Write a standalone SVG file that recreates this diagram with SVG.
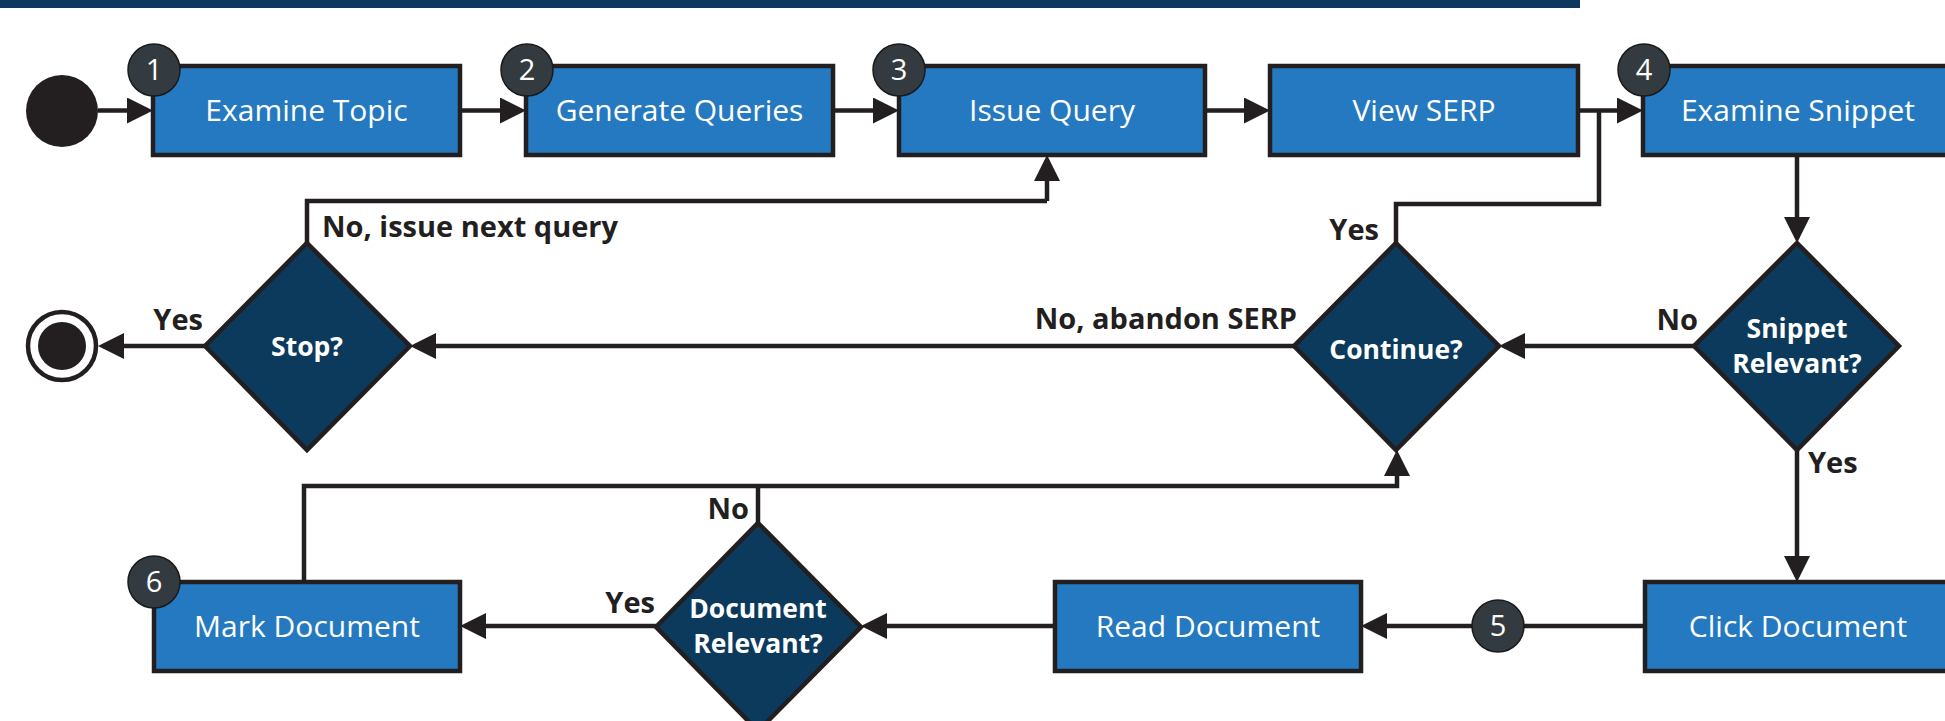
<svg xmlns="http://www.w3.org/2000/svg" width="1945" height="721" viewBox="0 0 1945 721">
<style>
.box{fill:#2479c0;stroke:#231f20;stroke-width:4.5}
.dia{fill:#0b3a5d;stroke:#231f20;stroke-width:4.5;stroke-linejoin:miter}
.btxt{font-family:"Open Sans","Noto Sans",sans-serif;font-size:30px;font-weight:500;fill:#fff;text-anchor:middle}
.dtxt{font-family:"Open Sans","Noto Sans",sans-serif;font-size:26.5px;font-weight:bold;fill:#fff;text-anchor:middle}
.lbl{font-family:"Open Sans","Noto Sans",sans-serif;font-size:29px;font-weight:bold;fill:#231f20}
.badge{fill:#343b40;stroke:#1a1a1a;stroke-width:1.5}
.num{font-family:"Open Sans","Noto Sans",sans-serif;font-size:29px;fill:#fff;text-anchor:middle}
.con{fill:none;stroke:#231f20;stroke-width:4.5}
.arr{marker-end:url(#ah)}
</style>
<defs>
<marker id="ah" viewBox="0 0 26 26" refX="21" refY="13" markerWidth="26" markerHeight="26" markerUnits="userSpaceOnUse" orient="auto">
<path d="M0,0 L26,13 L0,26 z" fill="#231f20"/>
</marker>
</defs>
<rect x="0" y="0" width="1580" height="8" fill="#0c375e"/>

<g id="connectors">
<path class="con arr" d="M98,110.5 H148"/>
<path class="con arr" d="M460,110.5 H521"/>
<path class="con arr" d="M833,110.5 H894"/>
<path class="con arr" d="M1205,110.5 H1265"/>
<path class="con arr" d="M1578,110.5 H1638"/>
<path class="con arr" d="M1797,155 V238"/>
<path class="con arr" d="M1694,346 H1504"/>
<path class="con" d="M1396,243 V204 H1599 V110.5"/>
<path class="con arr" d="M1294,346 H415"/>
<path class="con" d="M307,243 V201 H1047"/>
<path class="con arr" d="M1047,201 V160"/>
<path class="con arr" d="M205,346 H103"/>
<path class="con arr" d="M1797,450 V577"/>
<path class="con arr" d="M1645,626 H1366"/>
<path class="con arr" d="M1055,626 H866"/>
<path class="con arr" d="M656,626 H465"/>
<path class="con" d="M758,523 V486"/>
<path class="con arr" d="M304,582 V486 H1397 V455"/>
</g>

<g id="start"><circle cx="62" cy="111" r="36" fill="#231f20"/></g>
<g id="end">
<circle cx="62" cy="346" r="34" fill="#fff" stroke="#231f20" stroke-width="4.5"/>
<circle cx="62" cy="346" r="24" fill="#231f20"/>
</g>

<g id="examine-topic">
<rect class="box" x="153" y="66" width="307" height="89"/>
<text class="btxt" x="306.5" y="121">Examine Topic</text>
<circle class="badge" cx="154" cy="70" r="26"/><text class="num" x="154" y="80">1</text>
</g>
<g id="generate-queries">
<rect class="box" x="526" y="66" width="307" height="89"/>
<text class="btxt" x="679.5" y="121">Generate Queries</text>
<circle class="badge" cx="527" cy="70" r="26"/><text class="num" x="527" y="80">2</text>
</g>
<g id="issue-query">
<rect class="box" x="899" y="66" width="306" height="89"/>
<text class="btxt" x="1052" y="121">Issue Query</text>
<circle class="badge" cx="899" cy="70" r="26"/><text class="num" x="899" y="80">3</text>
</g>
<g id="view-serp">
<rect class="box" x="1270" y="66" width="308" height="89"/>
<text class="btxt" x="1424" y="121">View SERP</text>
</g>
<g id="examine-snippet">
<rect class="box" x="1643" y="66" width="310" height="89"/>
<text class="btxt" x="1798" y="121">Examine Snippet</text>
<circle class="badge" cx="1644" cy="70" r="26"/><text class="num" x="1644" y="80">4</text>
</g>

<g id="stop">
<polygon class="dia" points="307,243 410,346 307,450 205,346"/>
<text class="dtxt" x="307" y="356">Stop?</text>
</g>
<g id="continue">
<polygon class="dia" points="1396,243 1499,346 1396,450 1294,346"/>
<text class="dtxt" x="1396" y="359">Continue?</text>
</g>
<g id="snippet-relevant">
<polygon class="dia" points="1797,243 1899,346 1797,450 1694,346"/>
<text class="dtxt" x="1797" y="338">Snippet</text>
<text class="dtxt" x="1797" y="373">Relevant?</text>
</g>
<g id="document-relevant">
<polygon class="dia" points="758,523 861,627 758,731 656,627"/>
<text class="dtxt" x="758" y="618">Document</text>
<text class="dtxt" x="758" y="653">Relevant?</text>
</g>

<g id="mark-document">
<rect class="box" x="154" y="582" width="306" height="89"/>
<text class="btxt" x="307" y="637">Mark Document</text>
<circle class="badge" cx="154" cy="582" r="26"/><text class="num" x="154" y="592">6</text>
</g>
<g id="read-document">
<rect class="box" x="1055" y="582" width="306" height="89"/>
<text class="btxt" x="1208" y="637">Read Document</text>
</g>
<g id="click-document">
<rect class="box" x="1645" y="582" width="308" height="89"/>
<text class="btxt" x="1798" y="637">Click Document</text>
</g>
<g id="badge-5">
<circle class="badge" cx="1498" cy="626" r="26"/><text class="num" x="1498" y="636">5</text>
</g>

<g id="labels">
<text class="lbl" x="322" y="237">No, issue next query</text>
<text class="lbl" x="203" y="330" text-anchor="end">Yes</text>
<text class="lbl" x="1297" y="329" text-anchor="end">No, abandon SERP</text>
<text class="lbl" x="1379" y="240" text-anchor="end">Yes</text>
<text class="lbl" x="1698" y="330" text-anchor="end">No</text>
<text class="lbl" x="1808" y="473">Yes</text>
<text class="lbl" x="749" y="519" text-anchor="end">No</text>
<text class="lbl" x="655" y="613" text-anchor="end">Yes</text>
</g>
</svg>
